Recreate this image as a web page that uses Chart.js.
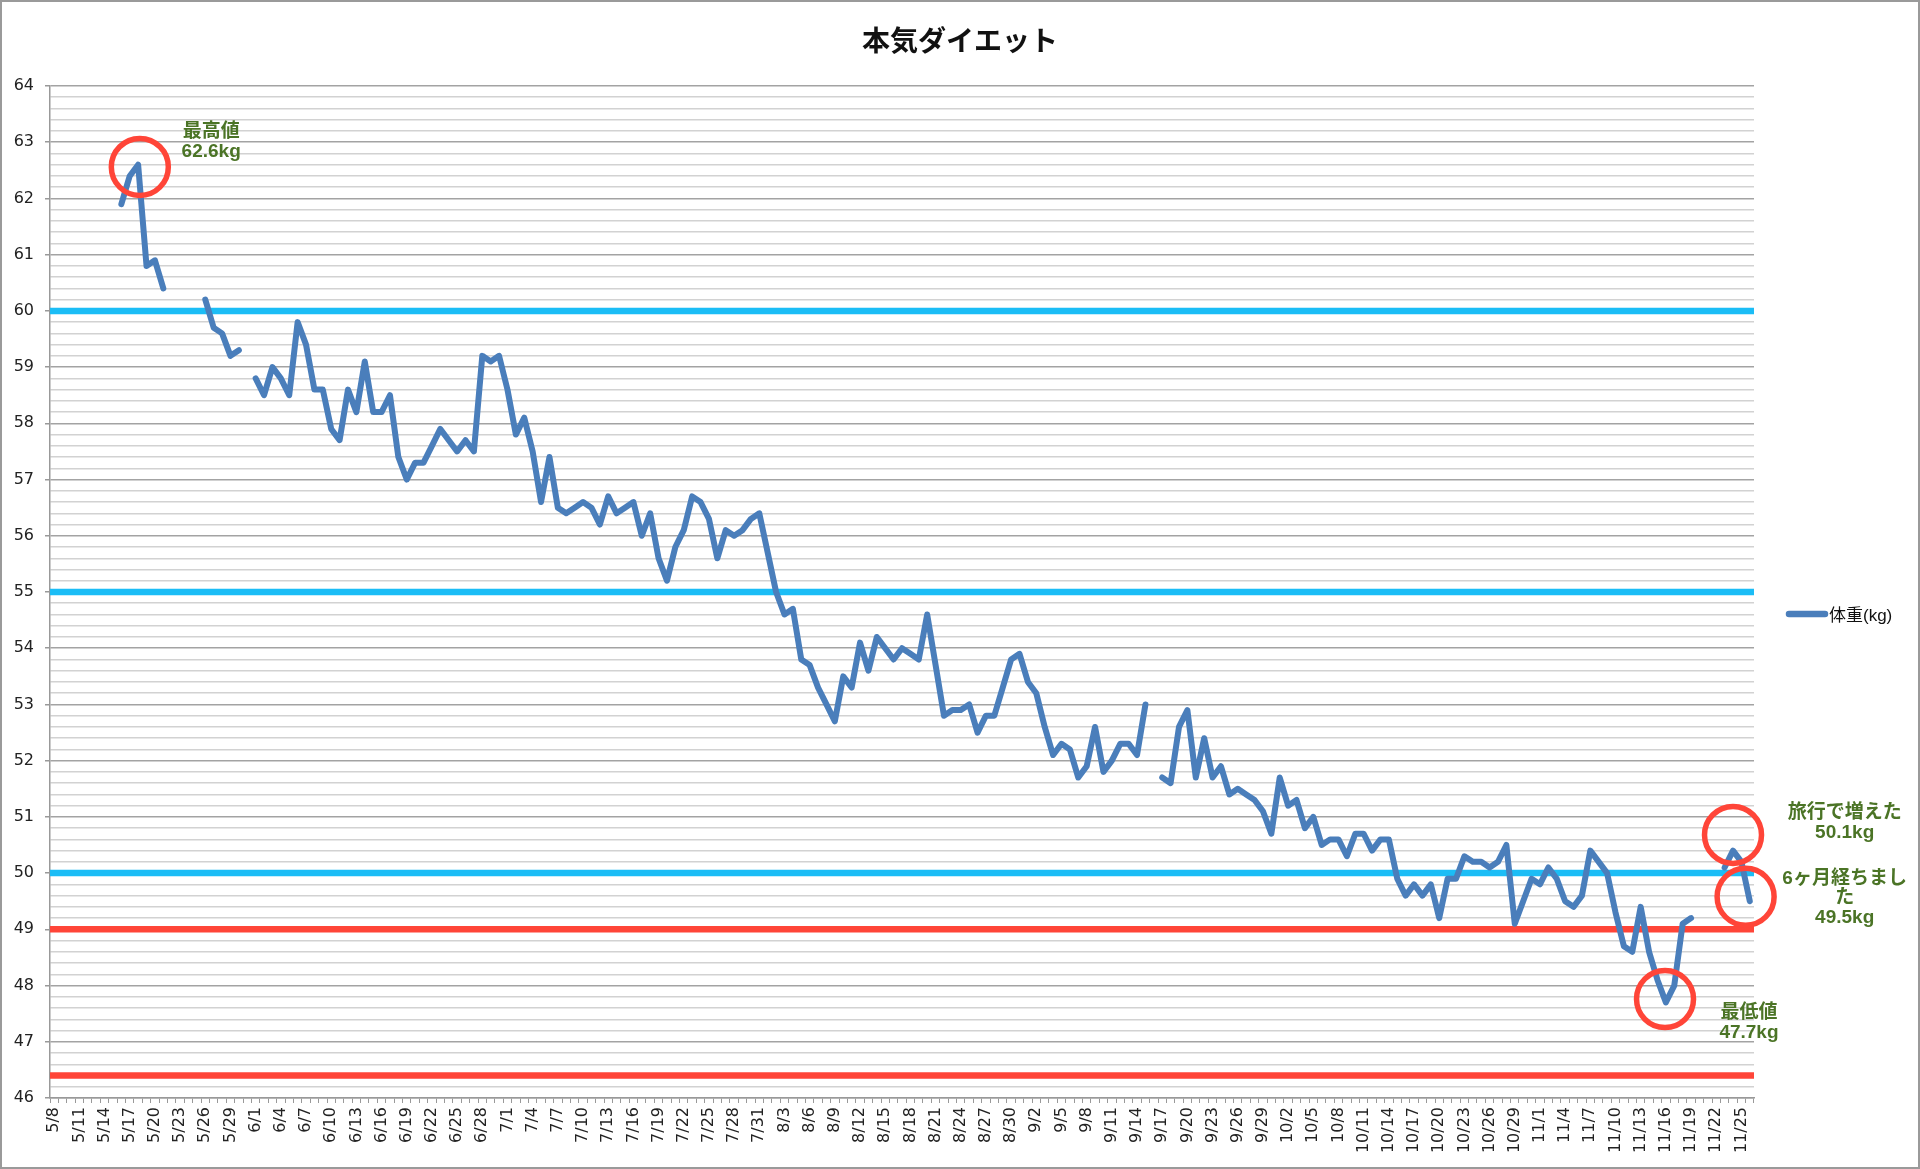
<!DOCTYPE html>
<html>
<head>
<meta charset="utf-8">
<script src="https://cdn.jsdelivr.net/npm/chart.js@4.4.0/dist/chart.umd.min.js"></script>
<style>
html, body { margin: 0; padding: 0; background: #fff; }
#wrap { position: relative; width: 1920px; height: 1169px; }
#frame { position: absolute; left: 0; top: 0; width: 1920px; height: 1169px; box-sizing: border-box; border: 2px solid #9a9a9a; pointer-events: none; }
</style>
</head>
<body>
<div id="wrap">
<canvas id="myChart" width="1920" height="1169"></canvas>
<div id="frame"></div>
</div>
<script>
// days 5/8 .. 11/26
const months = [[5, 8, 31], [6, 1, 30], [7, 1, 31], [8, 1, 31], [9, 1, 30], [10, 1, 31], [11, 1, 26]];
const days = [];
months.forEach(function (m) {
    for (let d = m[1]; d <= m[2]; d++) {
        days.push(m[0] + "/" + d);
    }
});

// 体重, one array per month (null = not measured)
const may = [null, null, null, null, null, null, null, null, 61.9, 62.4, 62.6, 60.8, 60.9, 60.4,
    null, null, null, null, 60.2, 59.7, 59.6, 59.2, 59.3, null];
const june = [58.8, 58.5, 59.0, 58.8, 58.5, 59.8, 59.4, 58.6, 58.6, 57.9, 57.7, 58.6, 58.2, 59.1, 58.2,
    58.2, 58.5, 57.4, 57.0, 57.3, 57.3, 57.6, 57.9, 57.7, 57.5, 57.7, 57.5, 59.2, 59.1, 59.2];
const july = [58.6, 57.8, 58.1, 57.5, 56.6, 57.4, 56.5, 56.4, 56.5, 56.6, 56.5, 56.2, 56.7, 56.4, 56.5, 56.6,
    56.0, 56.4, 55.6, 55.2, 55.8, 56.1, 56.7, 56.6, 56.3, 55.6, 56.1, 56.0, 56.1, 56.3, 56.4];
const august = [55.7, 55.0, 54.6, 54.7, 53.8, 53.7, 53.3, 53.0, 52.7, 53.5, 53.3, 54.1, 53.6, 54.2, 54.0, 53.8,
    54.0, 53.9, 53.8, 54.6, 53.7, 52.8, 52.9, 52.9, 53.0, 52.5, 52.8, 52.8, 53.3, 53.8, 53.9];
const september = [53.4, 53.2, 52.6, 52.1, 52.3, 52.2, 51.7, 51.9, 52.6, 51.8, 52.0, 52.3, 52.3, 52.1, 53.0,
    null, 51.7, 51.6, 52.6, 52.9, 51.7, 52.4, 51.7, 51.9, 51.4, 51.5, 51.4, 51.3, 51.1, 50.7];
const october = [51.7, 51.2, 51.3, 50.8, 51.0, 50.5, 50.6, 50.6, 50.3, 50.7, 50.7, 50.4, 50.6, 50.6, 49.9, 49.6,
    49.8, 49.6, 49.8, 49.2, 49.9, 49.9, 50.3, 50.2, 50.2, 50.1, 50.2, 50.5, 49.1, 49.5, 49.9];
const november = [49.8, 50.1, 49.9, 49.5, 49.4, 49.6, 50.4, 50.2, 50.0, 49.3, 48.7, 48.6, 49.4, 48.6, 48.1, 47.7,
    48.0, 49.1, 49.2, null, null, null, 50.1, 50.4, 50.2, 49.5];
const weight = may.concat(june, july, august, september, october, november);

const yTicks = [46, 64];
const blueLines = [60, 55, 50];
const redLines = [49, 46.4];

// circles and notes, placed in [day index, kg]
const circles = [[10.2, 62.56], [191.9, 47.76], [200, 50.68], [201.5, 49.58]];
const notes = [
    { at: [18.7, 63.18], lines: ["最高値", "62.6kg"] },
    { at: [213.3, 51.07], lines: ["旅行で増えた", "50.1kg"] },
    { at: [213.3, 49.9], lines: ["6ヶ月経ちまし", "た", "49.5kg"] },
    { at: [201.9, 47.51], lines: ["最低値", "47.7kg"] }
];

const blue = '#4a7ebb';

function isMajor(v) {
    return Math.abs(v - Math.round(v)) < 0.001;
}

const extras = {
    id: 'extras',
    beforeDatasetsDraw: function (chart) {
        const ctx = chart.ctx;
        const area = chart.chartArea;
        const y = chart.scales.y;
        ctx.save();
        ctx.lineWidth = 6.5;
        ctx.strokeStyle = '#1bbdf6';
        blueLines.forEach(function (v) {
            ctx.beginPath();
            ctx.moveTo(area.left, y.getPixelForValue(v));
            ctx.lineTo(area.right, y.getPixelForValue(v));
            ctx.stroke();
        });
        ctx.strokeStyle = '#ff4538';
        redLines.forEach(function (v) {
            ctx.beginPath();
            ctx.moveTo(area.left, y.getPixelForValue(v));
            ctx.lineTo(area.right, y.getPixelForValue(v));
            ctx.stroke();
        });
        ctx.restore();
    },
    afterDatasetsDraw: function (chart) {
        const ctx = chart.ctx;
        const x = chart.scales.x;
        const y = chart.scales.y;
        ctx.save();
        ctx.lineWidth = 5.5;
        ctx.strokeStyle = '#ff4538';
        circles.forEach(function (c) {
            ctx.beginPath();
            ctx.arc(x.getPixelForValue(c[0]), y.getPixelForValue(c[1]), 28.5, 0, Math.PI * 2);
            ctx.stroke();
        });
        ctx.fillStyle = '#4b7426';
        ctx.font = 'bold 19px "Liberation Sans", "Noto Sans CJK JP"';
        ctx.textAlign = 'center';
        ctx.textBaseline = 'middle';
        notes.forEach(function (n) {
            const px = x.getPixelForValue(n.at[0]);
            const py = y.getPixelForValue(n.at[1]);
            n.lines.forEach(function (t, k) {
                ctx.fillText(t, px, py + k * 19.5);
            });
        });
        ctx.restore();
    },
    afterDraw: function (chart) {
        const ctx = chart.ctx;
        ctx.save();
        ctx.fillStyle = '#111';
        ctx.font = 'bold 28px "Noto Sans CJK JP"';
        ctx.textAlign = 'center';
        ctx.textBaseline = 'middle';
        ctx.fillText("本気ダイエット", 960, 40);

        // legend
        const ds = chart.data.datasets[0];
        ctx.strokeStyle = ds.borderColor;
        ctx.lineWidth = 6.5;
        ctx.lineCap = 'round';
        ctx.beginPath();
        ctx.moveTo(1789, 614);
        ctx.lineTo(1825, 614);
        ctx.stroke();
        ctx.fillStyle = '#111';
        ctx.font = '17px "Liberation Sans", "Noto Sans CJK JP"';
        ctx.textAlign = 'left';
        ctx.fillText(ds.label, 1829, 616);
        ctx.restore();
    }
};

const data = {
    labels: days,
    datasets: [{
        label: "体重(kg)",
        data: weight,
        borderColor: blue,
        backgroundColor: blue,
        borderWidth: 6,
        borderCapStyle: 'round',
        borderJoinStyle: 'round',
        pointRadius: 0,
        tension: 0,
        spanGaps: false
    }]
};

const config = {
    type: 'line',
    data: data,
    options: {
        responsive: false,
        animation: false,
        layout: { padding: { top: 86, right: 166, bottom: 0, left: 0 } },
        plugins: {
            legend: { display: false },
            title: { display: false },
            tooltip: { enabled: false }
        },
        scales: {
            x: {
                type: 'category',
                offset: true,
                afterFit: function (s) { s.height = 71; },
                grid: { drawOnChartArea: false, offset: true, tickLength: 5, color: '#999', lineWidth: 1 },
                border: { display: true, color: '#999', width: 1.5 },
                ticks: {
                    autoSkip: false,
                    minRotation: 90,
                    maxRotation: 90,
                    padding: 4,
                    color: '#222',
                    font: { family: 'DejaVu Sans', size: 16 },
                    callback: function (v, i) {
                        return i % 3 === 0 ? this.getLabelForValue(v) : '';
                    }
                }
            },
            y: {
                min: yTicks[0],
                max: yTicks[1],
                afterFit: function (s) { s.width = 50; },
                grid: {
                    tickLength: 5,
                    lineWidth: 1.5,
                    color: function (c) { return isMajor(c.tick.value) ? '#a3a3a3' : '#d2d2d2'; },
                    tickColor: function (c) { return isMajor(c.tick.value) ? '#999' : 'rgba(0,0,0,0)'; }
                },
                border: { display: true, color: '#999', width: 1.5 },
                ticks: {
                    stepSize: 0.2,
                    autoSkip: false,
                    padding: 11,
                    color: '#222',
                    font: { family: 'DejaVu Sans', size: 16 },
                    callback: function (v) { return isMajor(v) ? Math.round(v) : ''; }
                }
            }
        }
    },
    plugins: [extras]
};

const myChart = new Chart(document.getElementById("myChart"), config);
</script>
</body>
</html>
